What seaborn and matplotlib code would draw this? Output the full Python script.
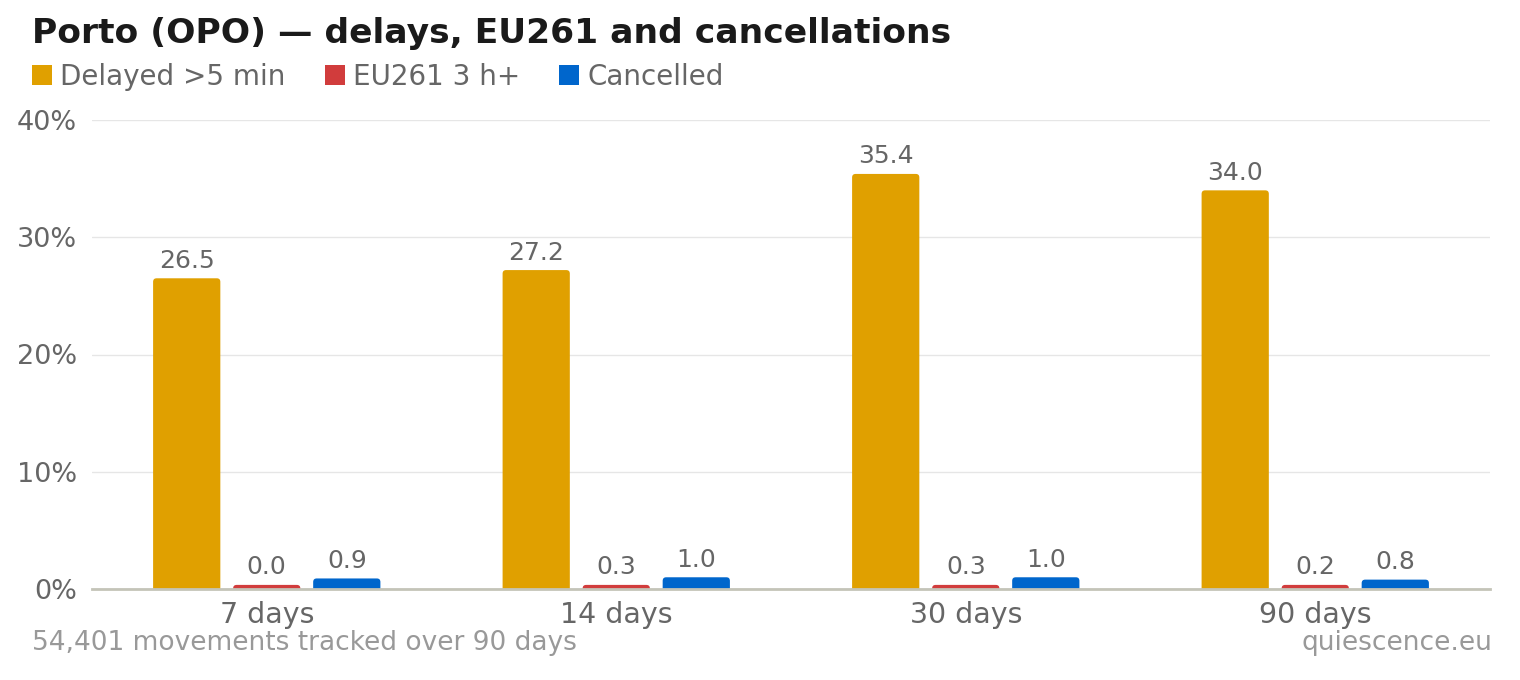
import numpy as np
import pandas as pd
import matplotlib
matplotlib.use("Agg")
import matplotlib.pyplot as plt
import seaborn as sns
from matplotlib.patches import Patch, FancyBboxPatch

# Data
periods = ["7 days", "14 days", "30 days", "90 days"]
series = ["Delayed >5 min", "EU261 3 h+", "Cancelled"]
delayed = [26.5, 27.2, 35.4, 34.0]
eu261 = [0.0, 0.3, 0.3, 0.2]
cancelled = [0.9, 1.0, 1.0, 0.8]
colors = ["#E0A000", "#D13C3C", "#0066CC"]

title = "Porto (OPO) \u2014 delays, EU261 and cancellations"
footer_left = "54,401 movements tracked over 90 days"
footer_right = "quiescence.eu"

rows = []
for name, vals in zip(series, [delayed, eu261, cancelled]):
    for p, v in zip(periods, vals):
        rows.append({"period": p, "series": name, "value": v})
df = pd.DataFrame(rows)
# tiny bars still drawn with a minimum visible height
df["shown"] = df["value"].clip(lower=0.35)

sns.set_theme(style="white")
plt.rcParams["font.family"] = ["DejaVu Sans"]

fig = plt.figure(figsize=(15.2, 6.8), dpi=100)
ax = fig.add_axes([92 / 1520, 1 - 589 / 680, 1398 / 1520, 469 / 680])

sns.barplot(data=df, x="period", y="shown", hue="series", palette=colors,
            width=0.687, gap=0.16, ax=ax, legend=False, saturation=1,
            edgecolor="none", zorder=3)

ax.set_xlim(-0.5, 3.5)
ax.set_ylim(0, 40)

# swap plain bars for ones with slightly rounded top corners
px_x = 1398 / 4.0   # pixels per x unit
px_y = 469 / 40.0   # pixels per y unit
rad = 3.5
for cont in ax.containers:
    for bar in cont:
        x0, w, h = bar.get_x(), bar.get_width(), bar.get_height()
        fb = FancyBboxPatch((x0, -1.0), w, h + 1.0,
                            boxstyle=f"round,pad=0,rounding_size={rad / px_x}",
                            mutation_aspect=px_x / px_y,
                            facecolor=bar.get_facecolor(), edgecolor="none",
                            zorder=3)
        ax.add_patch(fb)
        bar.set_visible(False)

for cont, name in zip(ax.containers, series):
    vals = df[df["series"] == name]["value"].tolist()
    ax.bar_label(cont, labels=[f"{v:.1f}" for v in vals], padding=4,
                 fontsize=18, color="#666666")

ax.set_yticks([0, 10, 20, 30, 40])
ax.set_yticklabels([f"{t}%" for t in [0, 10, 20, 30, 40]])
ax.set_xlabel("")
ax.set_ylabel("")
ax.grid(axis="y", color="#e6e6e6", lw=1, zorder=0)
ax.set_axisbelow(True)
for s in ["left", "right", "top"]:
    ax.spines[s].set_visible(False)
ax.spines["bottom"].set_color("#c4c4b8")
ax.spines["bottom"].set_linewidth(2)
ax.spines["bottom"].set_zorder(4)
ax.tick_params(axis="y", length=0, labelsize=19.5, colors="#666666", pad=11)
ax.tick_params(axis="x", length=0, labelsize=20.5, colors="#666666", pad=8.5)

fig.text(32 / 1520, 1 - 33 / 680, title, fontsize=24.8, fontweight="bold",
         color="#1a1a1a", va="center", ha="left")

handles = [Patch(facecolor=c, edgecolor="none", label=s) for c, s in zip(colors, series)]
fig.legend(handles=handles, loc="center left", bbox_to_anchor=(32 / 1520, 1 - 77 / 680),
           ncol=3, frameon=False, fontsize=20, labelcolor="#666666",
           borderpad=0, borderaxespad=0,
           handlelength=0.72, handleheight=0.72, handletextpad=0.3, columnspacing=1.4)

fig.text(32 / 1520, 1 - 643 / 680, footer_left, fontsize=19, color="#999999",
         va="center", ha="left")
fig.text(1492 / 1520, 1 - 643 / 680, footer_right, fontsize=19, color="#999999",
         va="center", ha="right")

fig.savefig("out.png", dpi=100, facecolor="white")
